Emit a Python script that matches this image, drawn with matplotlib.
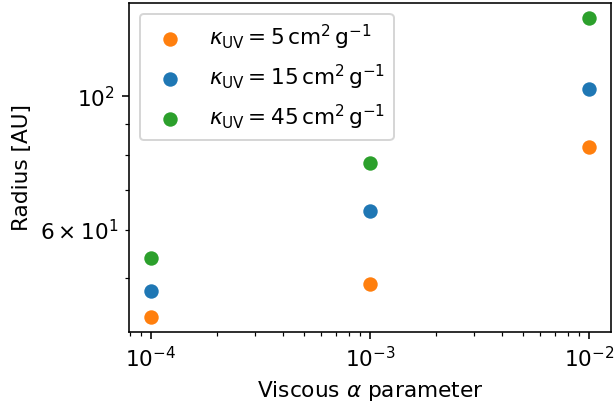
import matplotlib
matplotlib.use("Agg")
import matplotlib.pyplot as plt

alpha_visc = [1e-4, 1e-3, 1e-2]
kappa_labels = [r"$\kappa_{\rm UV} = 5\,{\rm cm}^2\,{\rm g}^{-1}$",
                r"$\kappa_{\rm UV} = 15\,{\rm cm}^2\,{\rm g}^{-1}$",
                r"$\kappa_{\rm UV} = 45\,{\rm cm}^2\,{\rm g}^{-1}$"]
radius_k5 = [43.0, 48.8, 82.5]
radius_k15 = [47.6, 64.6, 102.7]
radius_k45 = [53.9, 77.6, 134.9]
colors = ["#ff7f0e", "#1f77b4", "#2ca02c"]

DPI = 144
plt.rcParams["font.size"] = 10.8
fig, ax = plt.subplots(figsize=(614 / DPI, 406 / DPI), dpi=DPI)
fig.subplots_adjust(left=0.21, right=0.995, top=0.9926, bottom=0.182)

for radii, lab, c in zip([radius_k5, radius_k15, radius_k45], kappa_labels, colors):
    ax.scatter(alpha_visc, radii, s=52, color=c, label=lab, linewidths=0)

ax.set_xscale("log")
ax.set_yscale("log")
ax.set_xlabel(r"Viscous $\alpha$ parameter")
ax.set_ylabel("Radius [AU]")
ax.legend(loc="upper left")

fig.savefig("out.png", dpi=DPI)
